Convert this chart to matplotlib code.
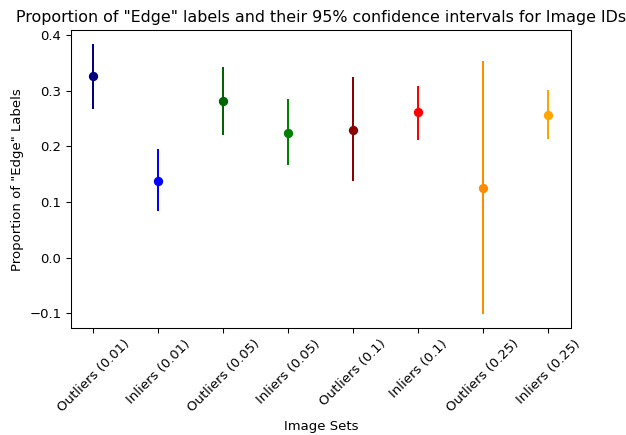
import matplotlib
matplotlib.use('Agg')
import matplotlib.pyplot as plt

labels = ['Outliers (0.01)', 'Inliers (0.01)', 'Outliers (0.05)', 'Inliers (0.05)',
          'Outliers (0.1)', 'Inliers (0.1)', 'Outliers (0.25)', 'Inliers (0.25)']
props = [0.326, 0.138, 0.281, 0.224, 0.230, 0.261, 0.126, 0.257]
ci_low = [0.268, 0.084, 0.221, 0.167, 0.138, 0.212, -0.102, 0.214]
ci_high = [0.384, 0.195, 0.342, 0.286, 0.324, 0.309, 0.354, 0.302]
colors = ['navy', 'blue', 'darkgreen', 'green', 'darkred', 'red', 'darkorange', 'orange']

DPI = 95.6
fig, ax = plt.subplots(figsize=(626 / DPI, 435 / DPI), dpi=DPI)
for i, (p, lo, hi, c) in enumerate(zip(props, ci_low, ci_high, colors)):
    ax.errorbar(i, p, yerr=[[p - lo], [hi - p]], fmt='o', color=c)

ax.set_xticks(range(len(labels)))
ax.set_xticklabels(labels, rotation=45)
ax.set_xlabel('Image Sets')
ax.set_ylabel('Proportion of "Edge" Labels')
ax.set_title('Proportion of "Edge" labels and their 95% confidence intervals for Image IDs')
fig.subplots_adjust(left=0.113, right=0.912, top=0.930, bottom=0.246)
fig.savefig('out.png', dpi=DPI)
